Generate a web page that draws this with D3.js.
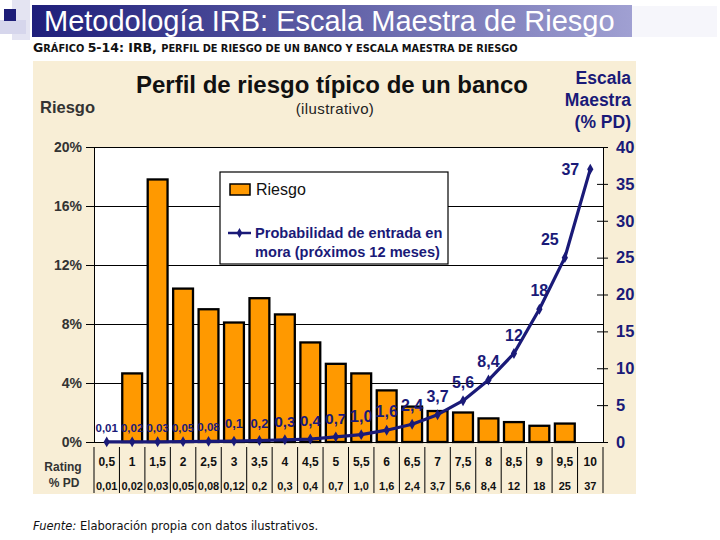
<!DOCTYPE html>
<html><head><meta charset="utf-8">
<script src="https://cdn.jsdelivr.net/npm/d3@7"></script>
<style>body{margin:0;background:#fff}svg{display:block;font-family:"Liberation Sans",Arial,sans-serif}</style>
</head><body><svg id="c" width="720" height="540"></svg>
<script>
const ratings = ["0,5","1","1,5","2","2,5","3","3,5","4","4,5","5","5,5","6","6,5","7","7,5","8","8,5","9","9,5","10"];
const riesgo = [0,4.65,17.8,10.4,9.0,8.1,9.75,8.65,6.75,5.3,4.65,3.5,2.4,2.1,2.0,1.6,1.35,1.1,1.25,0];
const pd = [0.01,0.02,0.03,0.05,0.08,0.12,0.2,0.3,0.4,0.7,1.0,1.6,2.4,3.7,5.6,8.4,12,18,25,37];
const pdLabels = ["0,01","0,02","0,03","0,05","0,08","0,1","0,2","0,3","0,4","0,7","1,0","1,6","2,4","3,7","5,6","8,4","12","18","25","37"];
const pdTable = ["0,01","0,02","0,03","0,05","0,08","0,12","0,2","0,3","0,4","0,7","1,0","1,6","2,4","3,7","5,6","8,4","12","18","25","37"];
const leftTicks = [0,4,8,12,16,20];
const rightTicks = [0,5,10,15,20,25,30,35,40];

const svg = d3.select("#c");
const navy = "#1a1a78";
const defs = svg.append("defs");
const g1 = defs.append("linearGradient").attr("id","tb");
g1.append("stop").attr("offset","0%").attr("stop-color","#1e1e7a");
g1.append("stop").attr("offset","100%").attr("stop-color","#a0a0d2");

// decoration
svg.append("rect").attr("x",0).attr("y",0).attr("width",720).attr("height",540).attr("fill","#fff");
svg.append("rect").attr("x",12).attr("y",0).attr("width",18).attr("height",40).attr("fill","#e4e4f2");
svg.append("rect").attr("x",0).attr("y",20).attr("width",26).attr("height",14).attr("fill","#d6d6ec");
svg.append("rect").attr("x",4).attr("y",9).attr("width",12).attr("height",12).attr("fill","#1e1e78");
svg.append("rect").attr("x",632).attr("y",6).attr("width",85).attr("height",31).attr("fill","#f6f6fb");
svg.append("rect").attr("x",32).attr("y",5).attr("width",600).attr("height",32).attr("fill","url(#tb)");
svg.append("text").attr("x",44).attr("y",31).attr("fill","#fff").attr("font-size",29)
  .attr("font-family","'Liberation Sans',Arial,sans-serif").text("Metodología IRB: Escala Maestra de Riesgo");

// subtitle with small caps
const st = svg.append("text").attr("x",33).attr("y",52).attr("font-family","'DejaVu Sans',sans-serif").attr("font-weight","bold").attr("fill","#111");
st.append("tspan").attr("font-size",12.5).text("G");
st.append("tspan").attr("font-size",9.8).text("RÁFICO ");
st.append("tspan").attr("font-size",12.5).text("5-14: IRB, ");
st.append("tspan").attr("font-size",9.8).text("PERFIL DE RIESGO DE UN BANCO Y ESCALA MAESTRA DE RIESGO");

// panel
svg.append("rect").attr("x",33).attr("y",61).attr("width",603).attr("height",433).attr("fill","#f8eed6");

const x0 = 94, x1 = 603, yTop = 147, yBot = 442;
const x = d3.scaleBand().domain(ratings).range([x0,x1]).paddingInner(0.22).paddingOuter(0.11);
const xc = d => x(d) + x.bandwidth()/2;
const yL = d3.scaleLinear().domain([0,20]).range([yBot,yTop]);
const yR = d3.scaleLinear().domain([0,40]).range([yBot,yTop]);

// plot background
svg.append("rect").attr("x",x0).attr("y",yTop).attr("width",x1-x0).attr("height",yBot-yTop).attr("fill","#fff");

// titles
svg.append("text").attr("x",332).attr("y",93).attr("text-anchor","middle").attr("font-size",24).attr("font-weight","bold").attr("fill","#111").text("Perfil de riesgo típico de un banco");
svg.append("text").attr("x",335).attr("y",114).attr("text-anchor","middle").attr("font-size",15).attr("letter-spacing",0.4).attr("fill","#222").text("(ilustrativo)");
svg.append("text").attr("x",40).attr("y",113).attr("font-size",16.5).attr("font-weight","bold").attr("fill","#333").text("Riesgo");
["Escala","Maestra","(% PD)"].forEach((t,i)=>{
  svg.append("text").attr("x",631).attr("y",84+i*22).attr("text-anchor","end").attr("font-size",17.5).attr("font-weight","bold").attr("fill",navy).text(t);
});

// left axis with gridlines
const la = svg.append("g").attr("transform",`translate(${x0},0)`)
  .call(d3.axisLeft(yL).tickValues(leftTicks).tickFormat(d=>d+"%").tickSize(-(x1-x0)).tickPadding(12));
la.select(".domain").attr("stroke","#000");
la.selectAll(".tick line").attr("stroke","#000").attr("x1",-8);
la.selectAll(".tick text").attr("font-size",14).attr("font-weight","bold").attr("fill","#333").attr("font-family","'Liberation Sans',Arial,sans-serif");

// right axis
const ra = svg.append("g").attr("transform",`translate(${x1},0)`)
  .call(d3.axisRight(yR).tickValues(rightTicks).tickSize(5).tickPadding(8));
ra.select(".domain").attr("stroke","#000");
ra.selectAll(".tick line").attr("stroke","#000").attr("x1",-6);
ra.selectAll(".tick text").attr("font-size",16.5).attr("font-weight","bold").attr("fill",navy).attr("font-family","'Liberation Sans',Arial,sans-serif");

// bars
svg.append("g").selectAll("rect").data(riesgo.map((v,i)=>({r:ratings[i],v}))).join("rect")
  .filter(d=>d.v>0)
  .attr("x",d=>x(d.r)).attr("y",d=>yL(d.v)).attr("width",x.bandwidth()).attr("height",d=>yBot-yL(d.v))
  .attr("fill","#ff9900").attr("stroke","#000").attr("stroke-width",2.3);

// legend
svg.append("rect").attr("x",220).attr("y",172).attr("width",228).attr("height",92).attr("fill","#fff").attr("stroke","#000").attr("stroke-width",1.2);
svg.append("rect").attr("x",230).attr("y",184).attr("width",20).attr("height",11).attr("fill","#ff9900").attr("stroke","#000").attr("stroke-width",1.5);
svg.append("text").attr("x",256).attr("y",195).attr("font-size",16).attr("fill","#111").text("Riesgo");
svg.append("line").attr("x1",228).attr("x2",251).attr("y1",233).attr("y2",233).attr("stroke",navy).attr("stroke-width",2.5);
svg.append("path").attr("d",d3.symbol(d3.symbolDiamond,28)()).attr("transform","translate(239.5,233)").attr("fill",navy);
svg.append("text").attr("x",255).attr("y",238).attr("font-size",14.6).attr("font-weight","bold").attr("fill",navy).text("Probabilidad de entrada en");
svg.append("text").attr("x",255).attr("y",257).attr("font-size",14.6).attr("font-weight","bold").attr("fill",navy).text("mora (próximos 12 meses)");

// line
const pts = pd.map((v,i)=>({r:ratings[i],v,l:pdLabels[i]}));
svg.append("path").datum(pts).attr("fill","none").attr("stroke",navy).attr("stroke-width",3.2).attr("stroke-linejoin","round")
  .attr("d",d3.line().x(d=>xc(d.r)).y(d=>yR(d.v)));
svg.append("g").selectAll("path").data(pts).join("path")
  .attr("d",d3.symbol(d3.symbolDiamond,34)()).attr("transform",d=>`translate(${xc(d.r)},${yR(d.v)})`).attr("fill",navy);

// data labels
svg.append("g").selectAll("text").data(pts).join("text")
  .attr("x",d=> xc(d.r) + (d.v>30 ? -20 : d.v>20 ? -15 : 0))
  .attr("y",d=> d.v>30 ? yR(d.v)+6 : d.v<0.1 ? yR(d.v)-10 : yR(d.v)-13)
  .attr("text-anchor","middle")
  .attr("font-size",d=> d.v<0.1 ? 11.5 : d.v<0.25 ? 13 : d.v<1 ? 15 : 16)
  .attr("font-weight","bold").attr("fill",navy)
  .text(d=>d.l);

// table
const tb = svg.append("g");
tb.selectAll("line").data(d3.range(ratings.length+1)).join("line")
  .attr("x1",i=>x0+i*(x1-x0)/ratings.length).attr("x2",i=>x0+i*(x1-x0)/ratings.length)
  .attr("y1",447).attr("y2",493).attr("stroke","#000").attr("stroke-width",1);
tb.selectAll("text.r").data(ratings).join("text").attr("class","r")
  .attr("x",d=>xc(d)).attr("y",466).attr("text-anchor","middle").attr("font-size",12).attr("font-weight","bold").attr("fill","#111").text(d=>d);
tb.selectAll("text.p").data(pdTable).join("text").attr("class","p")
  .attr("x",(d,i)=>xc(ratings[i])).attr("y",490).attr("text-anchor","middle").attr("font-size",11).attr("font-weight","bold").attr("fill","#111").text(d=>d);
svg.append("text").attr("x",63).attr("y",471).attr("text-anchor","middle").attr("font-size",12).attr("font-weight","bold").attr("fill","#333").text("Rating");
svg.append("text").attr("x",64).attr("y",487).attr("text-anchor","middle").attr("font-size",12).attr("font-weight","bold").attr("fill","#333").text("% PD");

// footer
const ft = svg.append("text").attr("x",33).attr("y",530).attr("font-size",11.5).attr("font-family","'DejaVu Sans',sans-serif").attr("fill","#111");
ft.append("tspan").attr("font-style","italic").text("Fuente:");
ft.append("tspan").text(" Elaboración propia con datos ilustrativos.");
</script></body></html>
